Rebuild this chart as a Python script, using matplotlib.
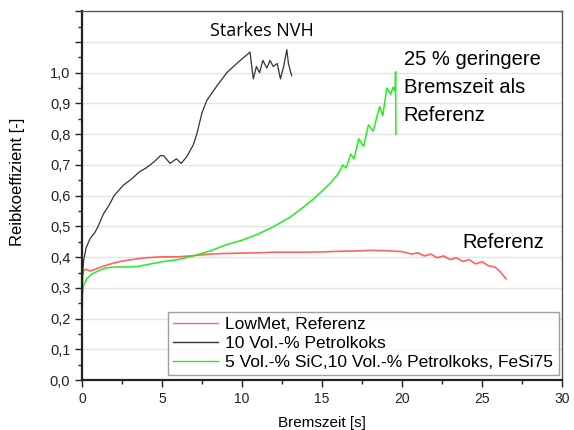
import matplotlib
matplotlib.use("Agg")
import matplotlib.pyplot as plt
from matplotlib.ticker import MultipleLocator, FuncFormatter

plt.rcParams['font.family'] = ['Liberation Sans', 'DejaVu Sans']

# LowMet, Referenz (red)
t_ref = [0.0, 0.03, 0.1, 0.25, 0.5, 0.8, 1.2, 1.6, 2.0, 2.5, 3.0, 3.5, 4.0, 5.0, 6.0, 7.0,
         8.0, 9.0, 10.0, 11.0, 12.0, 13.0, 14.0, 15.0, 16.0, 17.0, 18.0, 19.0, 20.0,
         20.6, 21.0, 21.4, 21.8, 22.2, 22.6, 23.0, 23.4, 23.8, 24.2, 24.6, 25.0, 25.4,
         25.8, 26.1, 26.5]
mu_ref = [0.25, 0.34, 0.358, 0.36, 0.355, 0.36, 0.368, 0.375, 0.381, 0.387, 0.391, 0.395,
          0.398, 0.401, 0.401, 0.405, 0.41, 0.412, 0.413, 0.414, 0.416, 0.416, 0.416, 0.417,
          0.419, 0.42, 0.422, 0.421, 0.418, 0.41, 0.414, 0.404, 0.41, 0.398, 0.404, 0.392,
          0.398, 0.386, 0.392, 0.378, 0.385, 0.372, 0.368, 0.355, 0.33]

# 10 Vol.-% Petrolkoks (black)
t_pk = [0.0, 0.05, 0.1, 0.25, 0.5, 0.8, 1.0, 1.33, 1.7, 2.0, 2.6, 3.0, 3.6, 4.0, 4.5, 4.9,
        5.1, 5.5, 5.9, 6.2, 6.55, 6.95, 7.17, 7.5, 7.8, 8.4, 9.05, 9.67, 10.3, 10.5,
        10.7, 10.9, 11.1, 11.3, 11.55, 11.75, 11.95, 12.2, 12.4, 12.6, 12.8, 12.9, 13.1]
mu_pk = [0.30, 0.36, 0.39, 0.43, 0.46, 0.48, 0.50, 0.54, 0.57, 0.60, 0.635, 0.65, 0.678,
         0.69, 0.71, 0.73, 0.73, 0.705, 0.72, 0.705, 0.727, 0.765, 0.80, 0.87, 0.91,
         0.955, 1.0, 1.03, 1.058, 1.067, 0.98, 1.02, 1.0, 1.04, 1.015, 1.04, 1.02,
         1.03, 0.98, 1.02, 1.075, 1.03, 0.99]

# 5 Vol.-% SiC, 10 Vol.-% Petrolkoks, FeSi75 (green)
t_sic = [0.0, 0.02, 0.1, 0.3, 0.6, 1.0, 1.5, 2.0, 3.0, 3.5, 4.0, 5.0, 6.0, 7.0, 8.0, 9.0,
         10.0, 11.0, 12.0, 13.0, 13.6, 14.4, 15.0, 15.5, 16.0, 16.3, 16.5, 16.8, 17.0,
         17.3, 17.6, 17.9, 18.2, 18.6, 18.8, 19.05, 19.3, 19.45, 19.58, 19.6, 19.62]
mu_sic = [0.15, 0.28, 0.31, 0.33, 0.345, 0.355, 0.365, 0.368, 0.368, 0.37, 0.375, 0.385,
          0.392, 0.405, 0.42, 0.44, 0.455, 0.475, 0.50, 0.53, 0.553, 0.586, 0.615, 0.64,
          0.67, 0.70, 0.69, 0.735, 0.72, 0.785, 0.76, 0.83, 0.81, 0.89, 0.86, 0.95, 0.93,
          0.953, 0.94, 1.003, 0.80]

labels = ['LowMet, Referenz', '10 Vol.-% Petrolkoks',
          '5 Vol.-% SiC,10 Vol.-% Petrolkoks, FeSi75']

fig = plt.figure(figsize=(5.74, 4.30), dpi=100)
ax = fig.add_axes([0.143, 0.116, 0.836, 0.858])

ax.plot(t_ref, mu_ref, color='#ff3030', lw=1.2, alpha=0.75, label=labels[0])
ax.plot(t_pk, mu_pk, color='#333333', lw=0.9, label=labels[1])
ax.plot(t_sic, mu_sic, color='#22ee22', lw=1.1, label=labels[2])

ax.set_xlim(0, 30)
ax.set_ylim(0, 1.2)
ax.xaxis.set_major_locator(MultipleLocator(5))
ax.xaxis.set_minor_locator(MultipleLocator(2.5))
ax.yaxis.set_major_locator(MultipleLocator(0.1))
ax.yaxis.set_minor_locator(MultipleLocator(0.05))
ax.yaxis.set_major_formatter(FuncFormatter(
    lambda v, p: f"{v:.1f}".replace('.', ',') if v <= 1.001 else ''))
ax.grid(axis='y', color='#e4e4e4', lw=1.0)
ax.set_axisbelow(True)

ax.tick_params(which='both', direction='out', colors='#222222')
ax.tick_params(axis='x', labelsize=10)
ax.tick_params(axis='y', labelsize=10.5)
ax.tick_params(which='major', length=5, width=1)
ax.tick_params(which='minor', length=3, width=1)
for s in ['left', 'bottom']:
    ax.spines[s].set_linewidth(1.6)
    ax.spines[s].set_color('#222222')
for s in ['top', 'right']:
    ax.spines[s].set_linewidth(1.0)
    ax.spines[s].set_color('#555555')

ax.set_xlabel('Bremszeit [s]', fontsize=11, labelpad=7)
ax.set_ylabel('Reibkoeffizient [-]', fontsize=12)
ax.yaxis.set_label_coords(-0.119, 0.537)

ax.text(8.0, 1.12, 'Starkes NVH', fontsize=13, family=['Open Sans', 'DejaVu Sans'])
ax.text(20.1, 1.075, '25 % geringere\nBremszeit als\nReferenz', fontsize=14.5,
        va='top', linespacing=1.6)
ax.text(23.8, 0.43, 'Referenz', fontsize=14.5)

leg = ax.legend(loc='lower right', bbox_to_anchor=(0.993, 0.013), fontsize=12.5,
                frameon=True, fancybox=False, handlelength=2.6, borderpad=0.3,
                labelspacing=0.22, handletextpad=0.4, borderaxespad=0.0)
leg.get_frame().set_edgecolor('#888888')
leg.get_frame().set_linewidth(1.0)
for line in leg.get_lines():
    line.set_linewidth(1.0)

fig.savefig('out.png', dpi=100)
